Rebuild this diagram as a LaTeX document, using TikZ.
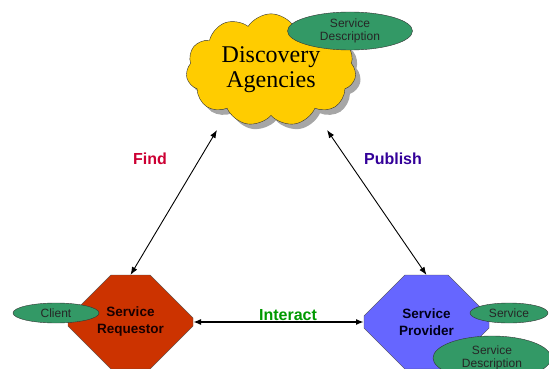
\documentclass[tikz,border=0pt]{standalone}
\usepackage{fontspec}
\setmainfont{Liberation Serif}
\setsansfont{Liberation Sans}
\usepackage{xcolor}
\usepackage{tikz}
\usetikzlibrary{shapes.symbols,shapes.misc,shapes.geometric,shadows,arrows.meta}
\definecolor{cloudyellow}{HTML}{FFCC00}
\definecolor{descgreen}{HTML}{339966}
\definecolor{reqred}{HTML}{CC3300}
\definecolor{provblue}{HTML}{6666FF}
\definecolor{findred}{HTML}{CC0033}
\definecolor{pubpurple}{HTML}{330099}
\definecolor{intgreen}{HTML}{009900}

\begin{document}
\begin{tikzpicture}[
			x=1pt, y=-1pt,
			desc/.style={
					ellipse, draw=black!80, fill=descgreen,
					inner sep=0pt, align=center,
					font=\sffamily\fontsize{12}{12.5}\selectfont, text=black!85
				},
			octa/.style={
					chamfered rectangle, draw=black!70,
					chamfered rectangle xsep=37pt, chamfered rectangle ysep=28pt,
					minimum width=125pt, minimum height=94pt,
					inner sep=0pt, outer sep=0pt, align=center,
					font=\sffamily\bfseries\fontsize{13.5}{17}\selectfont
				},
			link/.style={draw=black, line width=0.9pt, {Latex[length=8pt,width=6pt]}-{Latex[length=8pt,width=6pt]}},
			lbl/.style={font=\sffamily\bfseries\fontsize{16}{18}\selectfont}
		]
		\useasboundingbox (0,0) rectangle (549,369);

		% agenzia in alto con la nuvola
		\node[cloud, cloud puffs=11, cloud puff arc=115, aspect=1.6,
			draw=black!80, fill=cloudyellow, minimum width=170pt, minimum height=104pt,
			drop shadow={shadow xshift=5pt, shadow yshift=-5pt, fill=black!35, opacity=1},
			align=center, font=\fontsize{24}{25}\selectfont] (cloud) at (271,70) {Discovery\\Agencies};
		\node[desc, minimum width=125pt, minimum height=38pt] (topdesc) at (350,31) {Service\\Description};

		\node[octa, fill=reqred, text=black!90!red] (req) at (130.5,322) {Service\\Requestor};
		\node[octa, fill=provblue, text=black!90!blue] (prov) at (426.5,322) {Service\\Provider};

		\node[desc, minimum width=86pt, minimum height=20pt] (client) at (56,313) {Client};
		\node[desc, minimum width=78pt, minimum height=20pt] (service) at (509,313) {Service};
		\node[desc, minimum width=118pt, minimum height=44pt] (botdesc) at (492,358) {Service\\Description};

		\coordinate (findtop) at (217,130);
		\coordinate (pubtop) at (327,130);
		\draw[link] (findtop) -- (req.north);
		\draw[link] (pubtop) -- (prov.north);
		\draw[link, line width=1.6pt] (req.east) -- (prov.west);

		\node[lbl, text=findred] (find) at (150,159) {Find};
		\node[lbl, text=pubpurple] (publish) at (393,159) {Publish};
		\node[lbl, text=intgreen] (interact) at (288,315) {Interact};
	\end{tikzpicture}
\end{document}
